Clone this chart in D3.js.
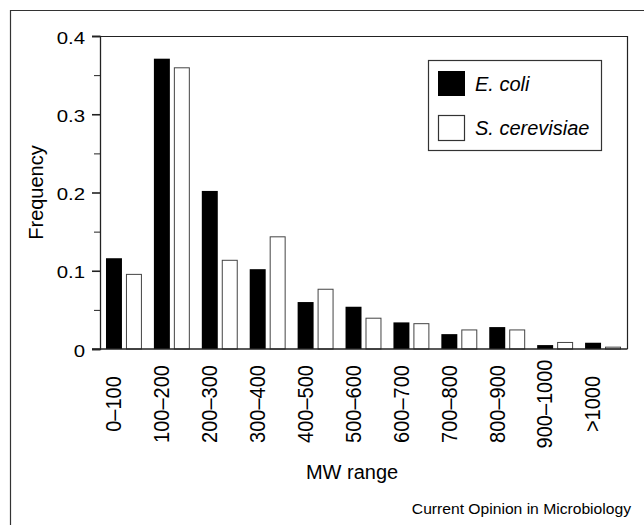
<!DOCTYPE html>
<html>
<head>
<meta charset="utf-8">
<script src="https://cdn.jsdelivr.net/npm/d3@7"></script>
<style>
  html, body { margin: 0; padding: 0; background: #fff; }
  svg text { font-family: "Liberation Sans", Arial, Helvetica, sans-serif; fill: #000; }
</style>
</head>
<body>
<div id="chart"></div>
<script>
const categories = ["0–100", "100–200", "200–300", "300–400", "400–500", "500–600",
  "600–700", "700–800", "800–900", "900–1000", ">1000"];
const ecoli = [0.116, 0.371, 0.202, 0.102, 0.060, 0.054, 0.034, 0.019, 0.028, 0.005, 0.008];
const scerevisiae = [0.096, 0.360, 0.114, 0.144, 0.077, 0.040, 0.033, 0.025, 0.025, 0.009, 0.003];
const seriesNames = ["E. coli", "S. cerevisiae"];
const yTicks = [0, 0.1, 0.2, 0.3, 0.4];
const yMinorTicks = [0.05, 0.15, 0.25, 0.35];

const W = 644, H = 525;
const plot = { left: 100, right: 627, top: 36, bottom: 349 };

const svg = d3.select("#chart").append("svg")
  .attr("width", W)
  .attr("height", H);

// outer frame (only top + left visible in the crop)
svg.append("path")
  .attr("d", `M10.5,${H} V10.5 H${W}`)
  .attr("fill", "none")
  .attr("stroke", "#333")
  .attr("stroke-width", 1.2);

const data = categories.map((c, i) => ({ cat: c, values: [ecoli[i], scerevisiae[i]] }));

const x = d3.scaleBand()
  .domain(categories)
  .range([plot.left, plot.right])
  .paddingInner(0.25)
  .paddingOuter(0.125);

const xi = d3.scaleBand()
  .domain(seriesNames)
  .range([0, x.bandwidth()])
  .paddingInner(0.2);

const y = d3.scaleLinear()
  .domain([0, 0.4])
  .range([plot.bottom, plot.top]);

// bars
const groups = svg.append("g")
  .selectAll("g")
  .data(data)
  .join("g")
  .attr("transform", d => `translate(${x(d.cat)},0)`);

groups.selectAll("rect")
  .data(d => d.values.map((v, k) => ({ name: seriesNames[k], v, k })))
  .join("rect")
  .attr("x", d => xi(d.name) + (d.k ? 0.5 : 0))
  .attr("width", d => xi.bandwidth() - (d.k ? 1 : 0))
  .attr("y", d => y(d.v) + (d.k ? 0.5 : 0))
  .attr("height", d => Math.max(0, y(0) - y(d.v) - (d.k ? 0.5 : 0)))
  .attr("fill", d => d.k ? "#fff" : "#000")
  .attr("stroke", d => d.k ? "#444" : "none")
  .attr("stroke-width", 1);

// plot box top + right
svg.append("path")
  .attr("d", `M${plot.left},${plot.top + 0.5} H${plot.right + 0.5} V${plot.bottom}`)
  .attr("fill", "none")
  .attr("stroke", "#222")
  .attr("stroke-width", 1.2);

// y axis, major ticks
const tickSx = 1.2;
const yAxis = svg.append("g")
  .attr("transform", `translate(${plot.left},0)`)
  .call(d3.axisLeft(y)
    .tickValues(yTicks)
    .tickSize(8)
    .tickPadding(7)
    .tickFormat(d => d === 0 ? "0" : d3.format(".1f")(d)));
yAxis.select(".domain").attr("stroke", "#222").attr("stroke-width", 1.3);
yAxis.selectAll(".tick line").attr("stroke", "#222").attr("stroke-width", 1.6);
yAxis.selectAll(".tick text")
  .attr("font-size", 17)
  .attr("font-family", null)
  .attr("fill", "#000")
  .attr("x", -15 / tickSx)
  .attr("dy", "0.42em")
  .attr("transform", `scale(${tickSx},1)`);

// minor ticks
const yMinor = svg.append("g")
  .attr("transform", `translate(${plot.left},0)`)
  .call(d3.axisLeft(y).tickValues(yMinorTicks).tickSize(6).tickFormat(""));
yMinor.select(".domain").remove();
yMinor.selectAll(".tick line").attr("stroke", "#222").attr("stroke-width", 1);

// x axis line
svg.append("line")
  .attr("x1", plot.left - 8)
  .attr("x2", plot.right + 0.5)
  .attr("y1", y(0))
  .attr("y2", y(0))
  .attr("stroke", "#222")
  .attr("stroke-width", 1.3);

// x category labels, rotated, centred on the black bar
const labSx = 1.08;
svg.append("g")
  .selectAll("text")
  .data(categories)
  .join("text")
  .attr("transform", c => `translate(${x(c) + xi(seriesNames[0]) + xi.bandwidth() / 2 - 0.5},404) scale(${labSx},1) rotate(-90)`)
  .attr("text-anchor", "middle")
  .attr("dy", "0.36em")
  .attr("font-size", 20)
  .text(c => c);

// axis titles
svg.append("text")
  .attr("transform", `translate(36,${(plot.top + plot.bottom) / 2}) rotate(-90)`)
  .attr("text-anchor", "middle")
  .attr("dy", "0.36em")
  .attr("font-size", 20)
  .text("Frequency");

svg.append("text")
  .attr("x", 352)
  .attr("y", 479)
  .attr("text-anchor", "middle")
  .attr("font-size", 20)
  .text("MW range");

// legend
const legend = svg.append("g").attr("transform", "translate(428,60)");
legend.append("rect")
  .attr("x", 0.5).attr("y", 0.5)
  .attr("width", 173).attr("height", 90)
  .attr("fill", "#fff")
  .attr("stroke", "#333")
  .attr("stroke-width", 1.2);

const legItems = legend.selectAll("g.item")
  .data(seriesNames)
  .join("g")
  .attr("class", "item")
  .attr("transform", (d, i) => `translate(10,${11 + i * 44})`);

legItems.append("rect")
  .attr("x", (d, i) => i ? 0.5 : 0)
  .attr("y", (d, i) => i ? 0.5 : 0)
  .attr("width", (d, i) => i ? 26 : 27)
  .attr("height", (d, i) => i ? 25 : 25)
  .attr("fill", (d, i) => i ? "#fff" : "#000")
  .attr("stroke", (d, i) => i ? "#333" : "none")
  .attr("stroke-width", 1.2);

legItems.append("text")
  .attr("x", 37)
  .attr("y", 19.5)
  .attr("font-size", 20)
  .attr("font-style", "italic")
  .text(d => d);

// source credit
svg.append("text")
  .attr("transform", "translate(631,514) scale(1.08,1)")
  .attr("text-anchor", "end")
  .attr("font-size", 14.5)
  .text("Current Opinion in Microbiology");
</script>
</body>
</html>
